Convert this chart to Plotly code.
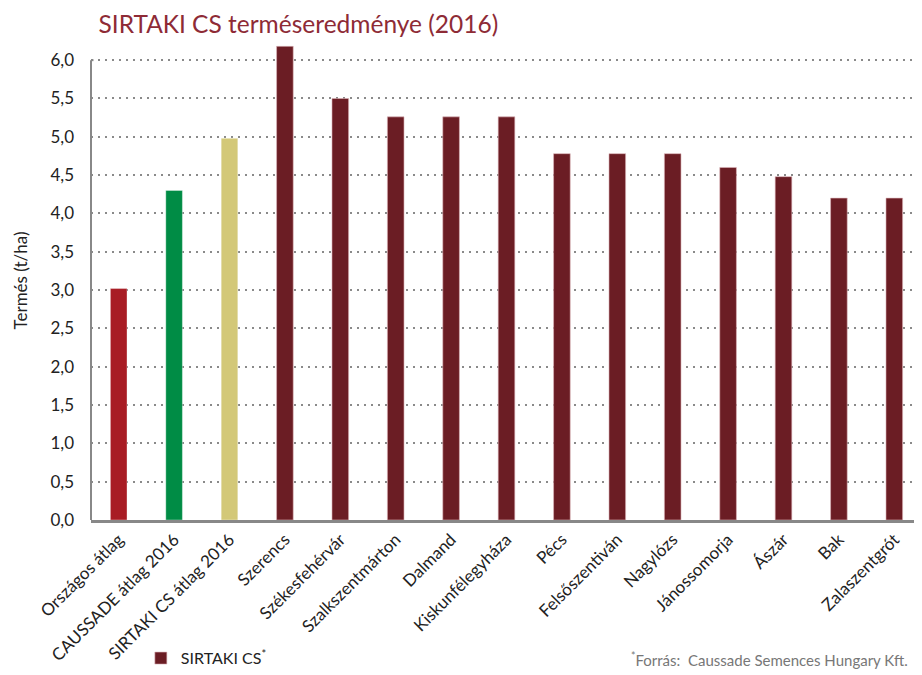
import plotly.graph_objects as go

avg_categories = ["Országos átlag", "CAUSSADE átlag 2016", "SIRTAKI CS átlag 2016"]
avg_values = [3.02, 4.3, 4.98]
avg_colors = ["#A81C24", "#008C45", "#D3C878"]

loc_categories = ["Szerencs", "Székesfehérvár", "Szalkszentmárton", "Dalmand", "Kiskunfélegyháza",
                  "Pécs", "Felsőszentiván", "Nagylózs", "Jánossomorja", "Ászár", "Bak", "Zalaszentgrót"]
loc_values = [6.18, 5.5, 5.26, 5.26, 5.26, 4.78, 4.78, 4.78, 4.6, 4.48, 4.2, 4.2]
loc_color = "#6B1D24"

tick_vals = [0, 0.5, 1, 1.5, 2, 2.5, 3, 3.5, 4, 4.5, 5, 5.5, 6]
tick_text = ["0,0", "0,5", "1,0", "1,5", "2,0", "2,5", "3,0", "3,5", "4,0", "4,5", "5,0", "5,5", "6,0"]

font_family = "Lato, 'Open Sans', sans-serif"

fig = go.Figure()
fig.add_trace(go.Bar(
    x=avg_categories, y=avg_values, width=0.3,
    marker=dict(color=avg_colors, line=dict(color="rgba(255,255,255,0.35)", width=1)),
    showlegend=False, hoverinfo="x+y"))
fig.add_trace(go.Bar(
    x=loc_categories, y=loc_values, width=0.3, name="SIRTAKI CS<sup>*</sup>",
    marker=dict(color=loc_color, line=dict(color="rgba(220,180,185,0.6)", width=1)),
    showlegend=True, hoverinfo="x+y"))

fig.update_layout(
    width=914, height=667,
    margin=dict(l=83, r=0, t=33, b=155, autoexpand=False),
    paper_bgcolor="white", plot_bgcolor="white",
    barmode="overlay",
    font=dict(family=font_family, color="#222222"),
    title=dict(text="SIRTAKI CS terméseredménye (2016)", x=0.099, xanchor="left",
               y=0.988, yanchor="top",
               font=dict(size=24.5, color="#8E2B36", family=font_family)),
    showlegend=True,
    legend=dict(x=0.06, y=-0.253, xanchor="left", yanchor="top",
                font=dict(size=16, color="#222222"), bgcolor="rgba(0,0,0,0)"),
    xaxis=dict(categoryorder="array", categoryarray=avg_categories + loc_categories,
               tickangle=-45, tickfont=dict(size=17, color="#222222"),
               showline=True, linecolor="#888888", linewidth=3,
               ticks="", showgrid=False, automargin=False),
    yaxis=dict(range=[0, 6.25], tickvals=tick_vals, ticktext=tick_text,
               tickfont=dict(size=17, color="#222222"), ticklabelstandoff=16,
               showgrid=True, gridcolor="#8a8a8a", griddash="2px,5px", gridwidth=1.5,
               showline=False, zeroline=False, ticks="", automargin=False,
               title=dict(text="Termés (t/ha)", font=dict(size=17, color="#222222"), standoff=18)),
    annotations=[dict(text="<sup>*</sup>Forrás:  Caussade Semences Hungary Kft.",
                      xref="paper", yref="paper", x=0.985, y=-0.268, xanchor="right", yanchor="top",
                      showarrow=False, font=dict(size=15, color="#777777", family=font_family))],
    shapes=[dict(type="line", xref="paper", yref="y", x0=0, x1=0, y0=0, y1=6,
                 line=dict(color="#888888", width=2), layer="above"),
            dict(type="line", xref="paper", yref="y", x0=0, x1=0.003, y0=6, y1=6,
                 line=dict(color="#888888", width=2), layer="above")],
)

fig.write_html("out.html")
